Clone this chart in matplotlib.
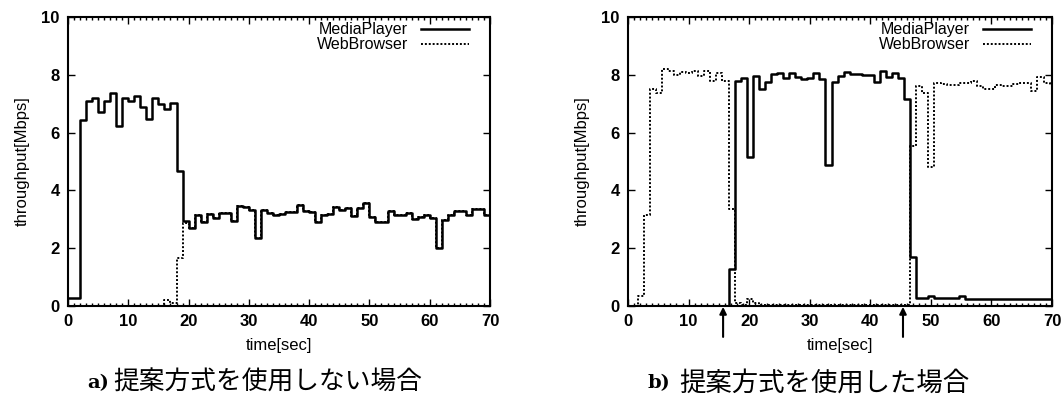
import numpy as np
import matplotlib
matplotlib.use("Agg")
import matplotlib.pyplot as plt

# ---------------- data ----------------
series_names = ["MediaPlayer", "WebBrowser"]
x_ticks = [0, 10, 20, 30, 40, 50, 60, 70]
y_ticks = [0, 2, 4, 6, 8, 10]

# panel a: sample start times (sec)
time_a = list(range(0, 70))
media_a = [0.27, 0.27, 6.44, 7.10, 7.20, 6.70, 7.10, 7.36, 6.23, 7.20,
           7.10, 7.27, 6.90, 6.46, 7.19, 7.00, 6.80, 7.04, 4.68, 2.95,
           2.69, 3.15, 2.90, 3.18, 3.03, 3.23, 3.23, 2.95, 3.46, 3.42,
           3.32, 2.34, 3.32, 3.23, 3.15, 3.20, 3.26, 3.26, 3.49, 3.28,
           3.26, 2.92, 3.15, 3.20, 3.42, 3.32, 3.40, 3.12, 3.38, 3.57,
           3.09, 2.92, 2.92, 3.29, 3.15, 3.15, 3.23, 3.00, 3.09, 3.15,
           3.03, 2.00, 2.98, 3.15, 3.28, 3.28, 3.15, 3.35, 3.35, 3.15]
web_a = [0.00, 0.00, 0.00, 0.00, 0.00, 0.00, 0.00, 0.00, 0.00, 0.00,
         0.00, 0.00, 0.00, 0.00, 0.00, 0.00, 0.22, 0.12, 1.65, 2.86,
         2.69, 3.15, 2.90, 3.18, 3.03, 3.23, 3.23, 2.95, 3.46, 3.42,
         3.32, 2.34, 3.32, 3.23, 3.15, 3.20, 3.26, 3.26, 3.49, 3.28,
         3.26, 2.92, 3.15, 3.20, 3.42, 3.32, 3.40, 3.12, 3.38, 3.57,
         3.09, 2.92, 2.92, 3.29, 3.15, 3.15, 3.23, 3.00, 3.09, 3.15,
         3.03, 2.00, 2.98, 3.15, 3.28, 3.28, 3.15, 3.35, 3.35, 3.15]

# panel b: sample start times (sec)
time_b = [0.0] + [k + 0.6 for k in range(70)]
media_b = [0.00,
           0.00, 0.00, 0.00, 0.00, 0.00, 0.00, 0.00, 0.00, 0.00, 0.00,
           0.00, 0.00, 0.00, 0.00, 0.00, 0.00, 1.27, 7.80, 7.88, 5.17,
           7.96, 7.50, 7.76, 8.03, 8.05, 7.88, 8.07, 7.94, 7.84, 7.88,
           8.07, 7.84, 4.88, 7.76, 7.96, 8.10, 8.02, 8.02, 8.00, 7.98,
           7.76, 8.14, 7.94, 8.07, 7.88, 7.15, 1.69, 0.28, 0.28, 0.33,
           0.28, 0.28, 0.28, 0.28, 0.33, 0.25, 0.25, 0.25, 0.25, 0.25,
           0.25, 0.25, 0.25, 0.25, 0.25, 0.25, 0.25, 0.25, 0.25, 0.25]
web_b = [0.00,
         0.00, 0.35, 3.15, 7.50, 7.36, 8.19, 8.13, 7.99, 8.10, 8.07,
         8.14, 7.96, 8.14, 7.79, 8.06, 7.79, 3.35, 0.10, 0.05, 0.23,
         0.10, 0.05, 0.05, 0.05, 0.05, 0.05, 0.05, 0.05, 0.05, 0.05,
         0.05, 0.05, 0.05, 0.05, 0.05, 0.05, 0.05, 0.05, 0.05, 0.05,
         0.05, 0.05, 0.05, 0.05, 0.05, 0.05, 5.55, 7.61, 7.36, 4.82,
         7.70, 7.68, 7.66, 7.65, 7.70, 7.73, 7.78, 7.60, 7.52, 7.50,
         7.65, 7.60, 7.62, 7.68, 7.70, 7.72, 7.45, 7.92, 7.72, 7.65]
arrow_times_b = [15.7, 45.4]

t_end = 70
xlabel = "time[sec]"
ylabel = "throughput[Mbps]"
cap_a_label, cap_a_text = "a)", "提案方式を使用しない場合"
cap_b_label, cap_b_text = "b)", "提案方式を使用した場合"

# ---------------- drawing ----------------
W, H = 1061, 397
fig = plt.figure(figsize=(W / 100, H / 100), dpi=100)
SANS = ["Liberation Sans", "DejaVu Sans"]
SERIF = ["DejaVu Serif"]
CJK = ["Noto Sans CJK JP", "DejaVu Sans"]


def make_axes(left_px, right_px):
    return fig.add_axes([left_px / W, 1 - 306 / H, (right_px - left_px) / W, (306 - 17) / H])


def step_series(t, v):
    return list(t) + [t_end], list(v) + [v[-1]]


def style_axes(ax):
    ax.set_xlim(0, 70)
    ax.set_ylim(0, 10)
    ax.set_xticks(x_ticks)
    ax.set_yticks(y_ticks)
    ax.set_xticks(np.arange(0, 71, 1), minor=True)
    ax.tick_params(which="both", direction="in", top=True, right=True, width=1.0)
    ax.tick_params(which="major", length=5, pad=6)
    ax.tick_params(which="minor", length=2)
    for lab in ax.get_xticklabels() + ax.get_yticklabels():
        lab.set_family(SANS)
        lab.set_fontsize(12)
        lab.set_fontweight("bold")
    for sp in ax.spines.values():
        sp.set_linewidth(1.5)
    ax.set_xlabel(xlabel, family=SANS, fontsize=12, labelpad=6)
    ax.set_ylabel(ylabel, family=SANS, fontsize=12, labelpad=8)


def draw_panel(ax, t, media, web):
    tw, vw = step_series(t, web)
    tm, vm = step_series(t, media)
    lw_ = ax.plot(tw, vw, drawstyle="steps-post", color="black", lw=1.4,
                  linestyle=(0, (1.0, 1.0)), label=series_names[1])[0]
    lm = ax.plot(tm, vm, drawstyle="steps-post", color="black", lw=1.8,
                 label=series_names[0])[0]
    ax.legend([lm, lw_], series_names, loc="upper right", frameon=False,
              bbox_to_anchor=(0.955, 0.99),
              markerfirst=False, prop={"family": SANS, "size": 11.5},
              handlelength=3.0, handletextpad=0.8, labelspacing=0.0,
              borderaxespad=0.0, borderpad=0.15)
    style_axes(ax)


ax1 = make_axes(68, 490)
draw_panel(ax1, time_a, media_a, web_a)

ax2 = make_axes(628, 1052)
draw_panel(ax2, time_b, media_b, web_b)

for ta in arrow_times_b:
    ax2.annotate("", xy=(ta, -0.003), xycoords=("data", "axes fraction"),
                 xytext=(ta, -0.107), textcoords=("data", "axes fraction"),
                 arrowprops=dict(arrowstyle="-|>", color="black", lw=1.5,
                                 mutation_scale=10, shrinkA=0, shrinkB=0),
                 annotation_clip=False)

cap_y = 1 - 383 / H
fig.text(87 / W, cap_y, cap_a_label, family=SERIF, fontweight="bold",
         fontsize=14, ha="left", va="center")
fig.text(113 / W, cap_y, cap_a_text, family=CJK, fontsize=18.5, ha="left", va="center")
fig.text(647 / W, cap_y, cap_b_label, family=SERIF, fontweight="bold",
         fontsize=14, ha="left", va="center")
fig.text(679 / W, cap_y, cap_b_text, family=CJK, fontsize=19, ha="left", va="center")

fig.savefig("out.png", dpi=100)
